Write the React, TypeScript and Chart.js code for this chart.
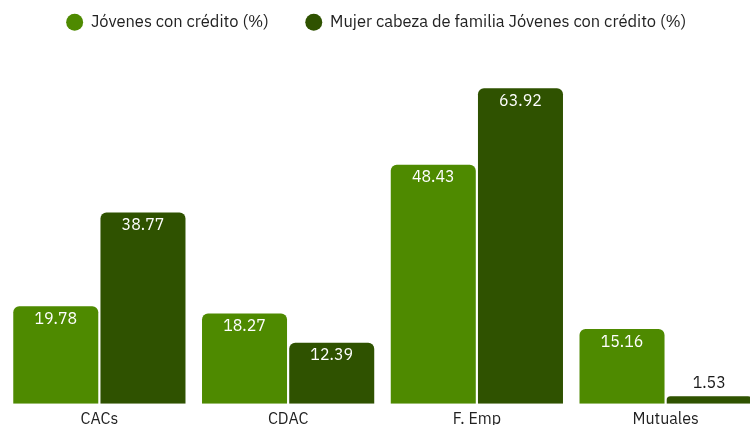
import React, { useEffect, useRef } from "react";
import { Chart, registerables } from "chart.js";

Chart.register(...registerables);

const categories = ["CACs", "CDAC", "F. Emp", "Mutuales"];
const seriesJovenes = [19.78, 18.27, 48.43, 15.16];
const seriesMujer = [38.77, 12.39, 63.92, 1.53];
const seriesNames = ["Jóvenes con crédito (%)", "Mujer cabeza de familia Jóvenes con crédito (%)"];
const colors = ["#4E8A00", "#2F5200"];

const FONT = "'IBM Plex Sans', 'Liberation Sans Narrow', Roboto, 'Noto Sans', sans-serif";

const valueLabels = {
  id: "valueLabels",
  afterDatasetsDraw(chart: any) {
    const ctx = chart.ctx;
    ctx.save();
    ctx.font = `16px ${FONT}`;
    ctx.textAlign = "center";
    ctx.textBaseline = "middle";
    chart.data.datasets.forEach((ds: any, i: number) => {
      const meta = chart.getDatasetMeta(i);
      meta.data.forEach((bar: any, j: number) => {
        const v = ds.data[j];
        const h = bar.base - bar.y;
        const txt = v.toFixed(2);
        if (h > 30) {
          ctx.fillStyle = "#ffffff";
          ctx.fillText(txt, bar.x, bar.y + 13);
        } else {
          ctx.fillStyle = "#1a1a1a";
          ctx.fillText(txt, bar.x, bar.y - 13);
        }
      });
    });
    ctx.restore();
  },
};

const legendShift = {
  id: "legendShift",
  afterLayout(chart: any) {
    if (chart.legend) {
      chart.legend.left -= 6;
      chart.legend.right -= 6;
    }
  },
};

export default function App() {
  const ref = useRef<HTMLCanvasElement>(null);
  useEffect(() => {
    document.body.style.margin = "0";
    const chart = new Chart(ref.current!, {
      type: "bar",
      data: {
        labels: categories,
        datasets: [
          {
            label: seriesNames[0],
            data: seriesJovenes,
            backgroundColor: colors[0],
            borderRadius: 6,
            borderSkipped: "bottom",
            categoryPercentage: 0.924,
            barPercentage: 0.975,
          },
          {
            label: seriesNames[1],
            data: seriesMujer,
            backgroundColor: colors[1],
            borderRadius: 6,
            borderSkipped: "bottom",
            categoryPercentage: 0.924,
            barPercentage: 0.975,
          },
        ],
      },
      options: {
        animation: false,
        responsive: false,
        layout: { padding: { left: 5, right: 0, top: -23, bottom: 0 } },
        plugins: {
          tooltip: { enabled: false },
          legend: {
            position: "top",
            labels: {
              usePointStyle: true,
              pointStyle: "circle",
              boxWidth: 16,
              boxHeight: 12,
              padding: 37,
              color: "#222",
              font: { family: FONT, size: 16.5 },
            },
          },
        },
        scales: {
          x: {
            grid: { display: false, drawTicks: false },
            border: { display: false },
            ticks: { color: "#222", font: { family: FONT, size: 16 }, padding: 6 },
          },
          y: {
            display: false,
            min: 0,
            max: 73.6,
          },
        },
      },
      plugins: [valueLabels, legendShift],
    });
    return () => chart.destroy();
  }, []);
  return (
    <div style={{ width: 760, height: 435 }}>
      <canvas ref={ref} width={760} height={435} />
    </div>
  );
}
